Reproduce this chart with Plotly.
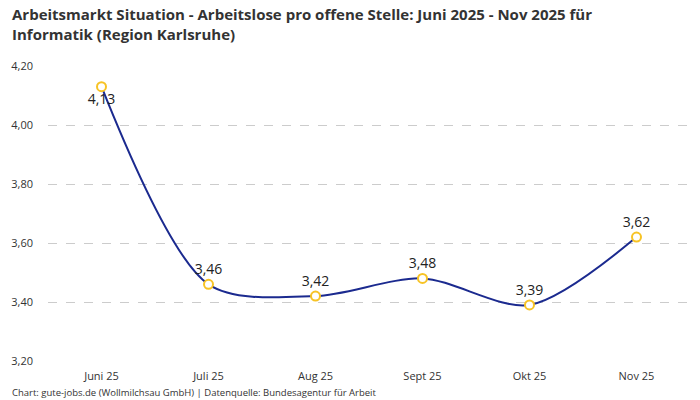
import plotly.graph_objects as go

months = ["Juni 25", "Juli 25", "Aug 25", "Sept 25", "Okt 25", "Nov 25"]
values = [4.13, 3.46, 3.42, 3.48, 3.39, 3.62]
label_pos = ["bottom center", "top center", "top center", "top center", "top center", "top center"]
y_ticks = [3.2, 3.4, 3.6, 3.8, 4.0, 4.2]

def de(v):
    return f"{v:.2f}".replace(".", ",")

FONT = "Open Sans, sans-serif"

fig = go.Figure()
fig.add_trace(go.Scatter(
    x=months, y=values,
    mode="lines+markers+text",
    line=dict(color="#1b2a8f", width=2, shape="spline", smoothing=0.85),
    marker=dict(size=9, color="white", line=dict(color="#f7c325", width=2)),
    text=[de(v) for v in values],
    textposition=label_pos,
    textfont=dict(family=FONT, size=14, color="#222222"),
    cliponaxis=False,
    hoverinfo="skip",
))

fig.update_layout(
    width=700, height=400,
    margin=dict(l=48, r=10, t=66, b=39),
    paper_bgcolor="white", plot_bgcolor="white",
    showlegend=False,
    font=dict(family=FONT, color="#333333"),
    xaxis=dict(
        type="category", range=[-0.5, 5.5],
        showgrid=False, zeroline=False, showline=False, ticks="",
        tickfont=dict(size=11, color="#333333"),
        ticklabelstandoff=7,
    ),
    yaxis=dict(
        range=[3.2, 4.2], tickvals=y_ticks, ticktext=[de(v) for v in y_ticks],
        showgrid=True, gridcolor="#cccccc", griddash="dash", gridwidth=1,
        zeroline=False, showline=False, ticks="",
        tickfont=dict(size=11, color="#333333"),
        ticklabelstandoff=14,
    ),
)

fig.add_annotation(
    text="<b>Arbeitsmarkt Situation - Arbeitslose pro offene Stelle: Juni 2025 - Nov 2025 für<br>Informatik (Region Karlsruhe)</b>",
    xref="paper", yref="paper", x=-38/642, y=1 + 64/295,
    xanchor="left", yanchor="top", align="left", showarrow=False,
    font=dict(family=FONT, size=15, color="#333333"),
)

fig.add_annotation(
    text="Chart: gute-jobs.de (Wollmilchsau GmbH) | Datenquelle: Bundesagentur für Arbeit",
    xref="paper", yref="paper", x=-38/642, y=-23/295,
    xanchor="left", yanchor="top", showarrow=False,
    font=dict(family=FONT, size=9.5, color="#333333"),
)

fig.write_html("out.html", config={"displayModeBar": False},
               post_script="document.body.style.margin='0';")
